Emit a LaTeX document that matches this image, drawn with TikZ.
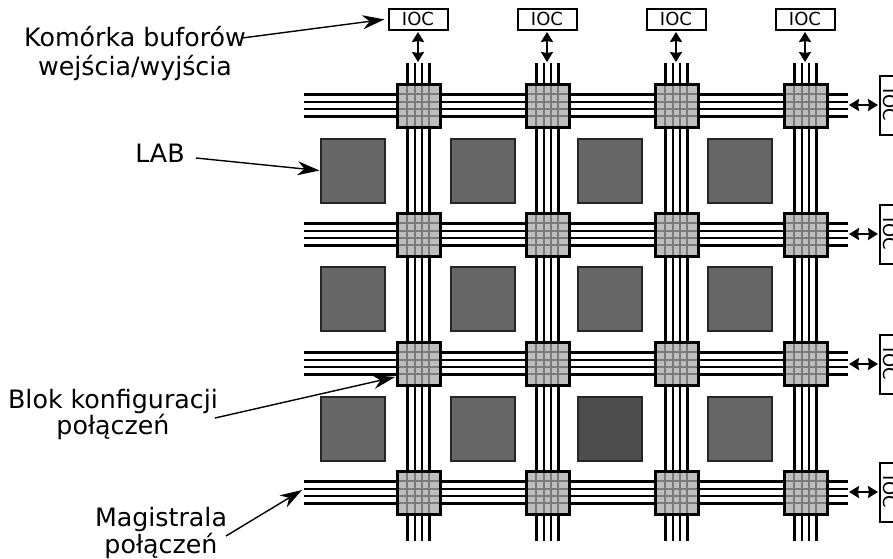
\documentclass[tikz,border=0pt]{standalone}
\usepackage{fontspec}
\setmainfont{DejaVu Sans}
\usetikzlibrary{arrows.meta}
\definecolor{labc}{HTML}{666666}
\definecolor{labd}{HTML}{4D4D4D}
\definecolor{blk}{HTML}{BEBEBE}
\definecolor{gridc}{HTML}{7A7A7A}
\tikzset{
  x=1pt,y=-1pt,
  lab/.style={draw=black!85,line width=2pt,fill=labc,minimum width=64pt,minimum height=64pt,inner sep=0pt,anchor=north west},
  ioc/.style={draw=black,line width=2pt,fill=white,minimum width=59pt,minimum height=21pt,inner sep=0pt,font=\fontsize{18}{18}\selectfont},
  ioc r/.style={ioc,rotate=-90},
  wire/.style={line width=2.4pt,black},
  lbl/.style={font=\fontsize{25.3}{28}\selectfont,align=center,inner sep=0pt},
  callout/.style={line width=1.4pt,-{Stealth[length=22pt,width=14pt,inset=7pt]}},
  dbl/.style={line width=2.2pt,{Stealth[length=10pt,width=12pt,inset=1pt]}-{Stealth[length=10pt,width=12pt,inset=1pt]}},
  blockbox/.style={draw=black,line width=2.4pt,minimum width=43pt,minimum height=43pt,inner sep=0pt,anchor=north west}
}
\begin{document}
\begin{tikzpicture}
\path[use as bounding box] (0,0) rectangle (893,558);
\clip (0,0) rectangle (893,558);
% buses
\foreach \c in {397,526,655,784}{
  \foreach \d in {10.3,17.7,25,32.3}{
    \draw[wire] (\c+\d,63) -- (\c+\d,541);
  }
}
\foreach \r in {84,213,342,471}{
  \foreach \d in {10.3,17.7,25,32.3}{
    \draw[wire] (304,\r+\d) -- (848,\r+\d);
  }
}
% blocks
\foreach \c [count=\i] in {397,526,655,784}{
  \foreach \r [count=\j] in {84,213,342,471}{
    \fill[blk] (\c,\r) rectangle (\c+43,\r+43);
    \foreach \d in {10.3,17.7,25,32.3}{
      \draw[gridc,line width=2.2pt] (\c+\d,\r) -- (\c+\d,\r+43);
      \draw[gridc,line width=2.2pt] (\c,\r+\d) -- (\c+43,\r+\d);
    }
    \node[blockbox] (b\i\j) at (\c-0.8,\r-0.8) {};
  }
}
% LABs
\foreach \c [count=\i] in {320,450,577,707}{
  \foreach \r [count=\j] in {138,266,396}{
    \node[lab] (l\i\j) at (\c-0.5,\r-0.5) {};
  }
}
\node[lab,fill=labd] at (576.5,395.5) {};
% IOC top
\foreach \c [count=\i] in {418,547,676,805}{
  \node[ioc] (t\i) at (\c,19) {IOC};
  \coordinate (tb\i) at (\c,62);
  \draw[dbl] (\c,32) -- (tb\i);
}
% IOC right
\foreach \r [count=\j] in {105,234,364,492}{
  \node[ioc r] (r\j) at (890,\r) {IOC};
  \coordinate (rb\j) at (849,\r);
  \draw[dbl] (rb\j) -- (878,\r);
}
% labels
\node[lbl] (k1) at (135,37) {Komórka buforów};
\node[lbl] (k2) at (135,68) {wejścia/wyjścia};
\coordinate (k1a) at (242,38);
\draw[callout,shorten >=3pt] (k1a) -- (t1.west);
\node[lbl] (labt) at (160,153) {LAB};
\coordinate (laba) at (196,158);
\draw[callout] (laba) -- (l11.west);
\node[lbl] (bk) at (113,402) {Blok konfiguracji};
\node[lbl] (bp) at (113,427) {połączeń};
\coordinate (bka) at (215,418);
\coordinate (bkb) at (395,377);
\draw[callout] (bka) -- (bkb);
\node[lbl] (mg) at (161,520) {Magistrala};
\node[lbl] (mp) at (161,546) {połączeń};
\coordinate (mga) at (226,536);
\coordinate (mgb) at (302,490);
\draw[callout] (mga) -- (mgb);
\end{tikzpicture}
\end{document}
